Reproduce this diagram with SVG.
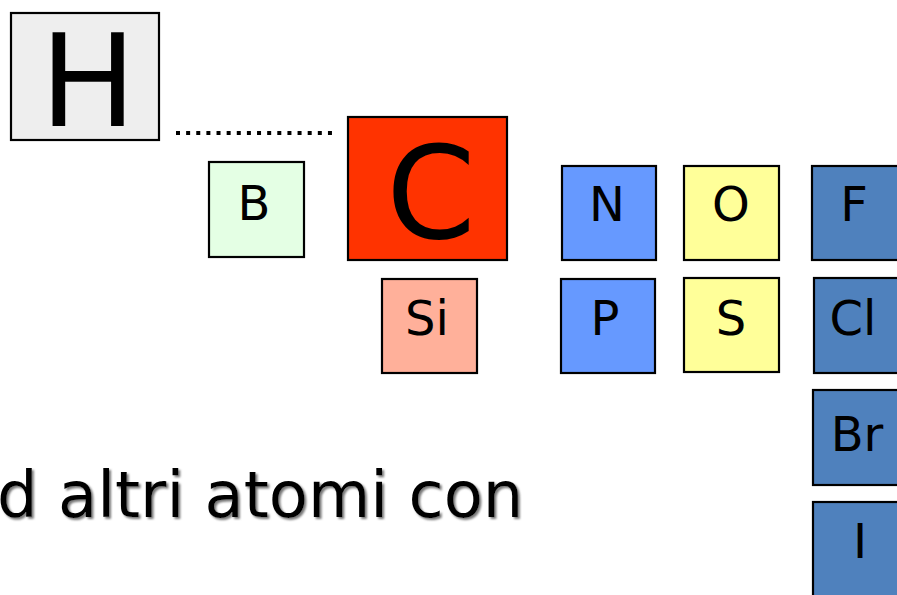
<svg xmlns="http://www.w3.org/2000/svg" width="897" height="595" viewBox="0 0 897 595">
<style>
.box{stroke:#000;stroke-width:2.2}
.el{font-family:"DejaVu Sans","Verdana",sans-serif;font-size:48px;fill:#000;text-anchor:middle}
.big{font-size:128px}
.txt{font-family:"DejaVu Sans","Verdana",sans-serif;font-size:64px;fill:#000}
</style>
<defs>
<filter id="sh" x="-5%" y="-20%" width="110%" height="150%">
<feGaussianBlur in="SourceAlpha" stdDeviation="1"/>
<feOffset dx="2" dy="2" result="b"/>
<feFlood flood-color="#777"/>
<feComposite in2="b" operator="in" result="s"/>
<feMerge><feMergeNode in="s"/><feMergeNode in="SourceGraphic"/></feMerge>
</filter>
</defs>
<rect width="897" height="595" fill="#fff"/>
<g id="connectors">
<line x1="176" y1="133" x2="332" y2="133" stroke="#000" stroke-width="4" stroke-dasharray="4 6.13"/>
</g>
<g id="H"><rect class="box" x="11" y="13" width="148" height="127" fill="#EEEEEE"/><text class="el big" x="88" y="126">H</text></g>
<g id="C"><rect class="box" x="348" y="117" width="159" height="143" fill="#FF3300"/><text class="el big" x="431" y="238">C</text></g>
<g id="B"><rect class="box" x="209" y="162" width="95" height="95" fill="#E4FFE4"/><text class="el" x="254" y="220">B</text></g>
<g id="Si"><rect class="box" x="382" y="279" width="95" height="94" fill="#FFB09A"/><text class="el" x="427" y="335">Si</text></g>
<g id="N"><rect class="box" x="562" y="166" width="94" height="94" fill="#6699FF"/><text class="el" x="607" y="221">N</text></g>
<g id="P"><rect class="box" x="561" y="279" width="94" height="94" fill="#6699FF"/><text class="el" x="605" y="335">P</text></g>
<g id="O"><rect class="box" x="684" y="166" width="95" height="94" fill="#FFFF99"/><text class="el" x="731" y="221">O</text></g>
<g id="S"><rect class="box" x="684" y="278" width="95" height="94" fill="#FFFF99"/><text class="el" x="731" y="335">S</text></g>
<g id="F"><rect class="box" x="812" y="166" width="100" height="94" fill="#4F81BD"/><text class="el" x="854" y="221">F</text></g>
<g id="Cl"><rect class="box" x="814" y="278" width="100" height="95" fill="#4F81BD"/><text class="el" x="853" y="335">Cl</text></g>
<g id="Br"><rect class="box" x="813" y="390" width="100" height="95" fill="#4F81BD"/><text class="el" x="857" y="451">Br</text></g>
<g id="I"><rect class="box" x="813" y="502" width="100" height="100" fill="#4F81BD"/><text class="el" x="860" y="558">I</text></g>
<g id="caption">
<text class="txt" x="-3" y="517" filter="url(#sh)">d altri atomi con</text>
</g>
</svg>
